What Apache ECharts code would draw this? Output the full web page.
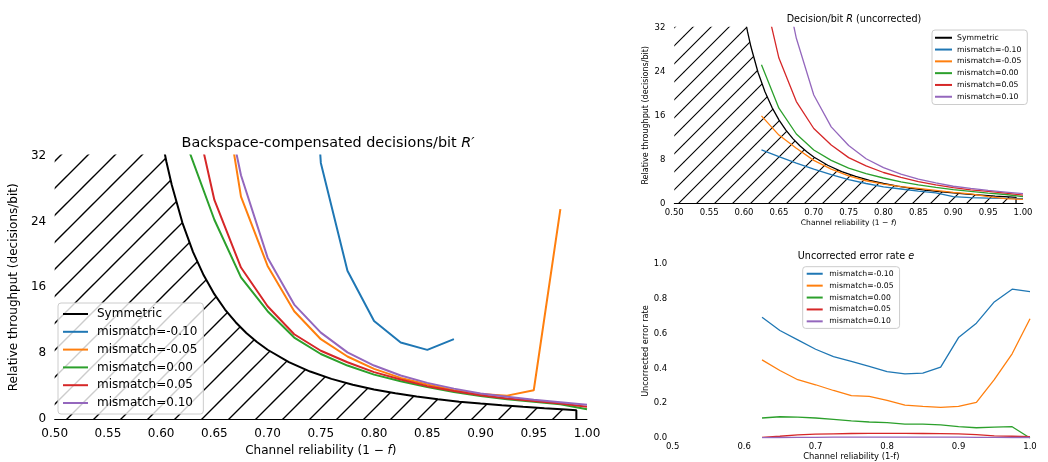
<!DOCTYPE html>
<html>
<head>
<meta charset="utf-8">
<script src="https://cdn.jsdelivr.net/npm/echarts@6/dist/echarts.min.js"></script>
<style>
  html, body { margin: 0; padding: 0; background: #fff; }
  #chart { width: 1048px; height: 462px; }
</style>
</head>
<body>
<div id="chart"></div>
<script>
// Channel reliability (1 - f) at which each mismatch condition was measured
const reliability = [0.625, 0.65, 0.675, 0.7, 0.725, 0.75, 0.775, 0.8, 0.825, 0.85, 0.875, 0.9, 0.925, 0.95, 0.975, 1.0];

const seriesNames = ['mismatch=-0.10', 'mismatch=-0.05', 'mismatch=0.00', 'mismatch=0.05', 'mismatch=0.10'];
const seriesColors = ['#1f77b4', '#ff7f0e', '#2ca02c', '#d62728', '#9467bd'];

// Backspace-compensated decisions/bit R' (null = undefined, error rate above 1/2)
const compMinus10 = [null, null, null, null, 80, 31.1, 18.0, 11.9, 9.3, 8.4, 9.7, null, null, null, null, null];
const compMinus05 = [null, 47, 27.0, 18.6, 13.1, 9.7, 7.6, 6.1, 5.0, 4.2, 3.5, 3.05, 2.85, 3.5, 25.5, null];
const compZero    = [33.0, 24.2, 17.2, 13.1, 9.9, 7.9, 6.5, 5.4, 4.6, 3.9, 3.3, 2.8, 2.4, 2.1, 1.8, 1.2];
const compPlus05  = [41, 26.6, 18.4, 13.7, 10.3, 8.3, 6.9, 5.7, 4.8, 4.0, 3.4, 2.9, 2.5, 2.2, 1.9, 1.5];
const compPlus10  = [70, 45, 29.6, 19.6, 13.9, 10.5, 8.1, 6.5, 5.3, 4.4, 3.7, 3.1, 2.7, 2.35, 2.05, 1.75];

// Uncorrected decisions/bit R
const rawMinus10 = [9.7, 8.5, 7.3, 6.2, 5.2, 4.3, 3.6, 3.0, 2.6, 2.2, 1.9, 1.2, 1.05, 0.95, 0.9, 0.85];
const rawMinus05 = [15.9, 12.4, 10.0, 7.8, 6.2, 5.0, 4.1, 3.5, 3.05, 2.7, 2.35, 2.0, 1.7, 1.2, 0.85, 0.7];
const rawZero    = [25.2, 17.3, 12.6, 9.7, 7.8, 6.4, 5.4, 4.6, 3.9, 3.35, 2.9, 2.5, 2.15, 1.85, 1.6, 1.2];
const rawPlus05  = [40, 26.4, 18.5, 13.6, 10.6, 8.3, 6.8, 5.6, 4.7, 3.95, 3.35, 2.85, 2.45, 2.15, 1.85, 1.5];
const rawPlus10  = [70, 45, 30, 19.7, 13.9, 10.5, 8.1, 6.5, 5.3, 4.4, 3.7, 3.1, 2.7, 2.35, 2.05, 1.75];

// Uncorrected error rate e
const errMinus10 = [0.694, 0.618, 0.564, 0.510, 0.468, 0.440, 0.411, 0.382, 0.369, 0.373, 0.407, 0.577, 0.660, 0.782, 0.855, 0.841];
const errMinus05 = [0.449, 0.388, 0.335, 0.306, 0.273, 0.243, 0.239, 0.216, 0.189, 0.182, 0.176, 0.182, 0.205, 0.335, 0.484, 0.685];
const errZero    = [0.115, 0.122, 0.120, 0.115, 0.107, 0.099, 0.092, 0.088, 0.080, 0.080, 0.075, 0.065, 0.059, 0.063, 0.065, 0.0];
const errPlus05  = [0.004, 0.010, 0.018, 0.022, 0.024, 0.026, 0.027, 0.027, 0.027, 0.026, 0.025, 0.024, 0.019, 0.012, 0.010, 0.008];
const errPlus10  = [0.002, 0.003, 0.004, 0.004, 0.005, 0.005, 0.005, 0.005, 0.005, 0.005, 0.005, 0.005, 0.004, 0.004, 0.003, 0.003];

// Symmetric channel bound 1/C (grows without limit towards 0.5); last pair closes the shaded region
const symReliability = [0.5, 0.52, 0.55, 0.575, 0.59, 0.6, 0.605, 0.61, 0.62, 0.63, 0.64, 0.65, 0.66, 0.67, 0.68, 0.69, 0.7, 0.72, 0.74, 0.76, 0.78, 0.8, 0.82, 0.84, 0.86, 0.88, 0.9, 0.92, 0.94, 0.96, 0.98, 0.99, 0.99];
const symThroughput  = [5000, 867, 138, 61.3, 42.6, 34.42, 31.21, 28.41, 23.83, 20.28, 17.45, 15.17, 13.30, 11.76, 10.46, 9.36, 8.42, 6.92, 5.77, 4.88, 4.17, 3.60, 3.13, 2.73, 2.41, 2.12, 1.88, 1.67, 1.49, 1.32, 1.165, 1.088, 0];

const yTicks = { min: 0, max: 32, interval: 8 };
const FONT = 'DejaVu Sans';

function pairs(xs, ys) {
  const out = [];
  xs.forEach((x, i) => { if (ys[i] !== null) out.push([x, ys[i]]); });
  return out;
}

// diagonal "/" hatch tile
function hatch(step, width) {
  const c = document.createElement('canvas');
  c.width = step; c.height = step;
  const g = c.getContext('2d');
  g.strokeStyle = '#000';
  g.lineWidth = width;
  g.lineCap = 'square';
  g.beginPath();
  for (let k = -1; k <= 1; k++) {
    g.moveTo(k * step, step);
    g.lineTo(k * step + step, 0);
  }
  g.stroke();
  return c;
}

const compSets = [compMinus10, compMinus05, compZero, compPlus05, compPlus10];
const rawSets = [rawMinus10, rawMinus05, rawZero, rawPlus05, rawPlus10];
const errSets = [errMinus10, errMinus05, errZero, errPlus05, errPlus10];

const series = [];
function symSeries(axis, lw, step, hw) {
  series.push({
    name: 'Symmetric', type: 'line', xAxisIndex: axis, yAxisIndex: axis,
    data: pairs(symReliability, symThroughput), showSymbol: false, symbol: 'none',
    color: '#000', lineStyle: { color: '#000', width: lw },
    areaStyle: { color: { image: hatch(step, hw), repeat: 'repeat' }, opacity: 1 },
    z: 1, animation: false
  });
}
function addSets(sets, axis, lw) {
  sets.forEach((ys, i) => {
    series.push({
      name: seriesNames[i], type: 'line', xAxisIndex: axis, yAxisIndex: axis,
      data: pairs(reliability, ys), showSymbol: false, symbol: 'none',
      color: seriesColors[i], lineStyle: { color: seriesColors[i], width: lw },
      z: 3, animation: false
    });
  });
}
symSeries(0, 2, 27, 1.4);
addSets(compSets, 0, 2);
symSeries(1, 1.3, 18, 1.1);
addSets(rawSets, 1, 1.3);
addSets(errSets, 2, 1.3);

function xAxis(grid, fs, interval, digits, name, nameFs, margin, gap, showLine) {
  return {
    type: 'value', gridIndex: grid, min: 0.5, max: 1.0, interval: interval,
    axisLine: { show: showLine, onZero: false, lineStyle: { color: '#000', width: 1 } },
    axisTick: { show: false }, splitLine: { show: false },
    axisLabel: { fontFamily: FONT, fontSize: fs, color: '#000', margin: margin, formatter: v => v.toFixed(digits) },
    name: name, nameLocation: 'middle', nameGap: gap,
    nameTextStyle: { fontFamily: FONT, fontSize: nameFs, color: '#000',
      rich: { i: { fontFamily: FONT, fontSize: nameFs, fontStyle: 'italic', color: '#000' } } }
  };
}
function yAxis(grid, fs, lim, digits, name, nameFs, margin, gap) {
  return {
    type: 'value', gridIndex: grid, min: lim.min, max: lim.max, interval: lim.interval,
    axisLine: { show: false }, axisTick: { show: false }, splitLine: { show: false },
    axisLabel: { fontFamily: FONT, fontSize: fs, color: '#000', margin: margin, formatter: v => v.toFixed(digits) },
    name: name, nameLocation: 'middle', nameGap: gap,
    nameTextStyle: { fontFamily: FONT, fontSize: nameFs, color: '#000' }
  };
}
function legend(names, left, top, fs, iw, lh, gap, pad, textPadLeft) {
  return {
    data: names.map(n => ({ name: n, icon: 'rect' })),
    orient: 'vertical', left: left, top: top,
    itemWidth: iw, itemHeight: 2, itemGap: gap, padding: pad,
    backgroundColor: 'rgba(255,255,255,0.8)', borderColor: '#cccccc', borderWidth: 1, borderRadius: 3,
    textStyle: { fontFamily: FONT, fontSize: fs, color: '#000', lineHeight: lh, padding: [0, 0, 0, textPadLeft] },
    selectedMode: false
  };
}
function title(text, cx, top, fs) {
  return {
    text: text, left: cx, top: top, textAlign: 'center',
    textStyle: { fontFamily: FONT, fontSize: fs, fontWeight: 'normal', color: '#000',
      rich: {
        n: { fontFamily: FONT, fontSize: fs, color: '#000' },
        i: { fontFamily: FONT, fontSize: fs, fontStyle: 'italic', color: '#000' }
      } }
  };
}

const chart = echarts.init(document.getElementById('chart'), null, { renderer: 'canvas' });
chart.setOption({
  animation: false,
  backgroundColor: '#fff',
  title: [
    title('{n|Backspace-compensated decisions/bit }{i|R′}', 323, 131, 14.4),
    title('{n|Decision/bit }{i|R}{n| (uncorrected)}', 849, 9, 9.6),
    title('{n|Uncorrected error rate }{i|e}', 851, 246, 9.6)
  ],
  grid: [
    { left: 52, top: 155.5, width: 535, height: 265 },
    { left: 674.3, top: 27.3, width: 348.7, height: 176 },
    { left: 672.7, top: 264, width: 357.3, height: 174 }
  ],
  xAxis: [
    xAxis(0, 12, 0.05, 2, 'Channel reliability (1 − {i|f})', 12, 9, 25, true),
    xAxis(1, 8.5, 0.05, 2, 'Channel reliability (1 − {i|f})', 7.6, 4.5, 16, true),
    xAxis(2, 8.5, 0.1, 1, 'Channel reliability (1-f)', 8.4, 4.5, 15, false)
  ],
  yAxis: [
    yAxis(0, 12, yTicks, 0, 'Relative throughput (decisions/bit)', 12, 8.5, 25),
    yAxis(1, 8.5, yTicks, 0, 'Relative throughput (decisions/bit)', 8, 9, 24),
    yAxis(2, 8.5, { min: 0, max: 1, interval: 0.2 }, 1, 'Uncorrected error rate', 8.2, 5.5, 22)
  ],
  legend: [
    legend(['Symmetric'].concat(seriesNames), 58, 303, 12, 25, 14, 3.8, [4, 6, 4, 5], 4),
    legend(['Symmetric'].concat(seriesNames), 932, 30, 7.7, 17, 9.5, 2.3, [3, 6, 3, 3], 0),
    legend(seriesNames, 802.7, 266.7, 7.7, 16, 9.5, 2.4, [2.3, 6, 2.3, 4], 1.6)
  ],
  series: series
});
</script>
</body>
</html>
